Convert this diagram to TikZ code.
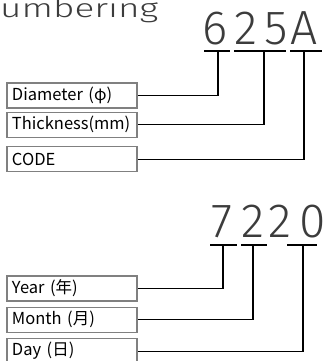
\documentclass[tikz,border=0pt]{standalone}
\usepackage{fontspec}
\usetikzlibrary{positioning}
\setmainfont{Fira Sans}
\newfontfamily\thinfont{Fira Sans Light}
\newfontfamily\titlefont[FakeStretch=1.42]{Fira Sans Light}
\newfontfamily\cjkfont{Noto Sans CJK JP}
\definecolor{boxgray}{RGB}{128,128,128}
\definecolor{digitgray}{RGB}{60,60,60}
\tikzset{
    % label boxes on the left
    fieldbox/.style={
        rectangle, draw=boxgray, line width=1.3pt, fill=white,
        minimum width=130pt, minimum height=25pt,
        text width=120pt, inner xsep=5pt, align=left,
        font=\cjkfont\fontsize{16.5}{16.5}\selectfont
    },
    % big code digits
    digit/.style={
        inner sep=0pt, anchor=base, text=digitgray,
        font=\thinfont\fontsize{48}{48}\selectfont
    },
    % bar under a digit
    uline/.style={line width=1.3pt},
    % line from a digit down to its box
    link/.style={line width=1.1pt}
}

\begin{document}
\begin{tikzpicture}[x=1pt,y=-1pt]
\useasboundingbox (0,0) rectangle (331,361);

% title
\node[anchor=base west, inner sep=0pt, text=digitgray, font=\titlefont\fontsize{26}{26}\selectfont] (title) at (0,18) {umbering};

% first code
\foreach \ch/\x in {6/215, 2/246, 5/276.5, A/304}
    \node[digit] (c\ch) at (\x,45) {\ch};
\draw[uline] (204,51) -- (230,51) (234,51) -- (286,51) (290,51) -- (322,51);
\coordinate (t6) at (218,51);
\coordinate (t25) at (264,51);
\coordinate (tA) at (304,51);

% second code
\foreach \n/\ch/\x in {a/7/222, b/2/252.5, c/2/280, d/0/313}
    \node[digit] (w\n) at (\x,237) {\ch};
\draw[uline] (210,245) -- (237,245) (241,245) -- (267,245) (287,245) -- (317,245);
\coordinate (ty) at (223,245);
\coordinate (tm) at (253,245);
\coordinate (td) at (303,245);

% boxes
\node[fieldbox] (dia) at (72,95.5) {Diameter (φ)};
\node[fieldbox, below=3pt of dia] (thk) {Thickness(mm)};
\node[fieldbox, below=8pt of thk] (code) {CODE};
\node[fieldbox] (year) at (72,288.5) {Year (年)};
\node[fieldbox, below=5pt of year] (month) {Month (月)};
\node[fieldbox, below=5pt of month] (day) {Day (日)};

% links
\foreach \t/\b in {t6/dia, t25/thk, tA/code, ty/year, tm/month, td/day}
    \draw[link] (\t) |- (\b.east);

\end{tikzpicture}
\end{document}
